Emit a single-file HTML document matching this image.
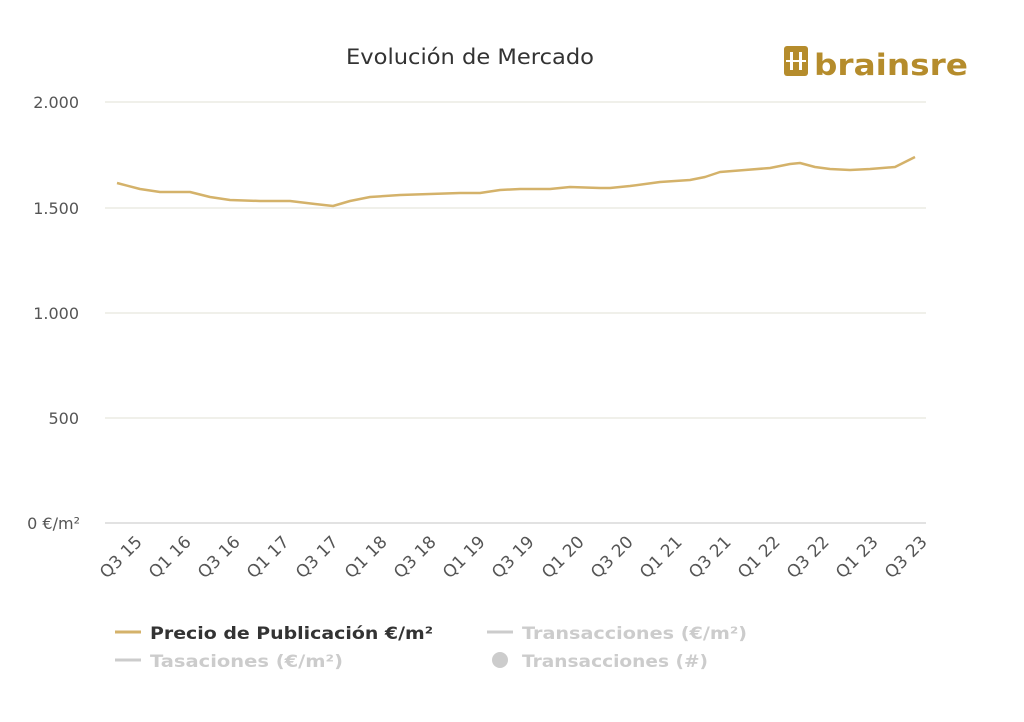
<!DOCTYPE html>
<html><head><meta charset="utf-8"><style>
body{margin:0;background:#fff;}
svg{display:block;font-family:"DejaVu Sans","Liberation Sans",sans-serif;}
</style></head><body>
<svg width="1024" height="722" viewBox="0 0 1024 722">
<rect width="1024" height="722" fill="#fff"/>
<text x="470" y="64" font-size="21" fill="#333" text-anchor="middle" textLength="248" lengthAdjust="spacingAndGlyphs">Evolución de Mercado</text>
<g fill="#b58c2c">
<rect x="784" y="46" width="24" height="30" rx="3"/>
<rect x="790" y="52" width="3" height="18" fill="#fff"/>
<rect x="799" y="52" width="3" height="18" fill="#fff"/>
<rect x="786" y="60" width="20" height="2" fill="#fff"/>
<text x="814" y="75" font-size="29" font-weight="bold" textLength="154" lengthAdjust="spacingAndGlyphs">brainsre</text>
</g>
<g stroke="#ecebe3" stroke-width="1.5">
<line x1="105" y1="102" x2="926" y2="102"/>
<line x1="105" y1="208" x2="926" y2="208"/>
<line x1="105" y1="313" x2="926" y2="313"/>
<line x1="105" y1="418" x2="926" y2="418"/>
</g>
<line x1="105" y1="523" x2="926" y2="523" stroke="#d8d8d8" stroke-width="1.5"/>
<g font-size="16" fill="#555" text-anchor="end">
<text x="79" y="108">2.000</text>
<text x="79" y="214">1.500</text>
<text x="79" y="319">1.000</text>
<text x="79" y="424">500</text>
<text x="80" y="529">0 €/m²</text>
</g>
<polyline fill="none" stroke="#d4b26a" stroke-width="2.5" stroke-linejoin="round" points="117,183 140,189 160,192 190,192 210,197 230,200 260,201 290,201 315,204 333,206 350,201 370,197 400,195 430,194 460,193 480,193 500,190 520,189 550,189 570,187 600,188 610,188 630,186 660,182 690,180 705,177 720,172 745,170 770,168 790,164 800,163 815,167 830,169 850,170 870,169 895,167 915,157"/>
<g font-size="17" fill="#555" text-anchor="end">
<text transform="translate(143,543) rotate(-45)">Q3 15</text>
<text transform="translate(192,543) rotate(-45)">Q1 16</text>
<text transform="translate(241,543) rotate(-45)">Q3 16</text>
<text transform="translate(290,543) rotate(-45)">Q1 17</text>
<text transform="translate(339,543) rotate(-45)">Q3 17</text>
<text transform="translate(388,543) rotate(-45)">Q1 18</text>
<text transform="translate(437,543) rotate(-45)">Q3 18</text>
<text transform="translate(486,543) rotate(-45)">Q1 19</text>
<text transform="translate(535,543) rotate(-45)">Q3 19</text>
<text transform="translate(585,543) rotate(-45)">Q1 20</text>
<text transform="translate(634,543) rotate(-45)">Q3 20</text>
<text transform="translate(683,543) rotate(-45)">Q1 21</text>
<text transform="translate(732,543) rotate(-45)">Q3 21</text>
<text transform="translate(781,543) rotate(-45)">Q1 22</text>
<text transform="translate(830,543) rotate(-45)">Q3 22</text>
<text transform="translate(879,543) rotate(-45)">Q1 23</text>
<text transform="translate(928,543) rotate(-45)">Q3 23</text>
</g>
<line x1="115" y1="632" x2="141" y2="632" stroke="#d4b26a" stroke-width="3"/>
<text x="150" y="639" font-size="17" font-weight="bold" fill="#333" textLength="283" lengthAdjust="spacingAndGlyphs">Precio de Publicación €/m²</text>
<line x1="487" y1="632" x2="513" y2="632" stroke="#ccc" stroke-width="3"/>
<text x="522" y="639" font-size="17" font-weight="bold" fill="#ccc" textLength="225" lengthAdjust="spacingAndGlyphs">Transacciones (€/m²)</text>
<line x1="115" y1="660" x2="141" y2="660" stroke="#ccc" stroke-width="3"/>
<text x="150" y="667" font-size="17" font-weight="bold" fill="#ccc" textLength="193" lengthAdjust="spacingAndGlyphs">Tasaciones (€/m²)</text>
<circle cx="500" cy="660" r="8" fill="#ccc"/>
<text x="522" y="667" font-size="17" font-weight="bold" fill="#ccc" textLength="186" lengthAdjust="spacingAndGlyphs">Transacciones (#)</text>
</svg>
</body></html>
